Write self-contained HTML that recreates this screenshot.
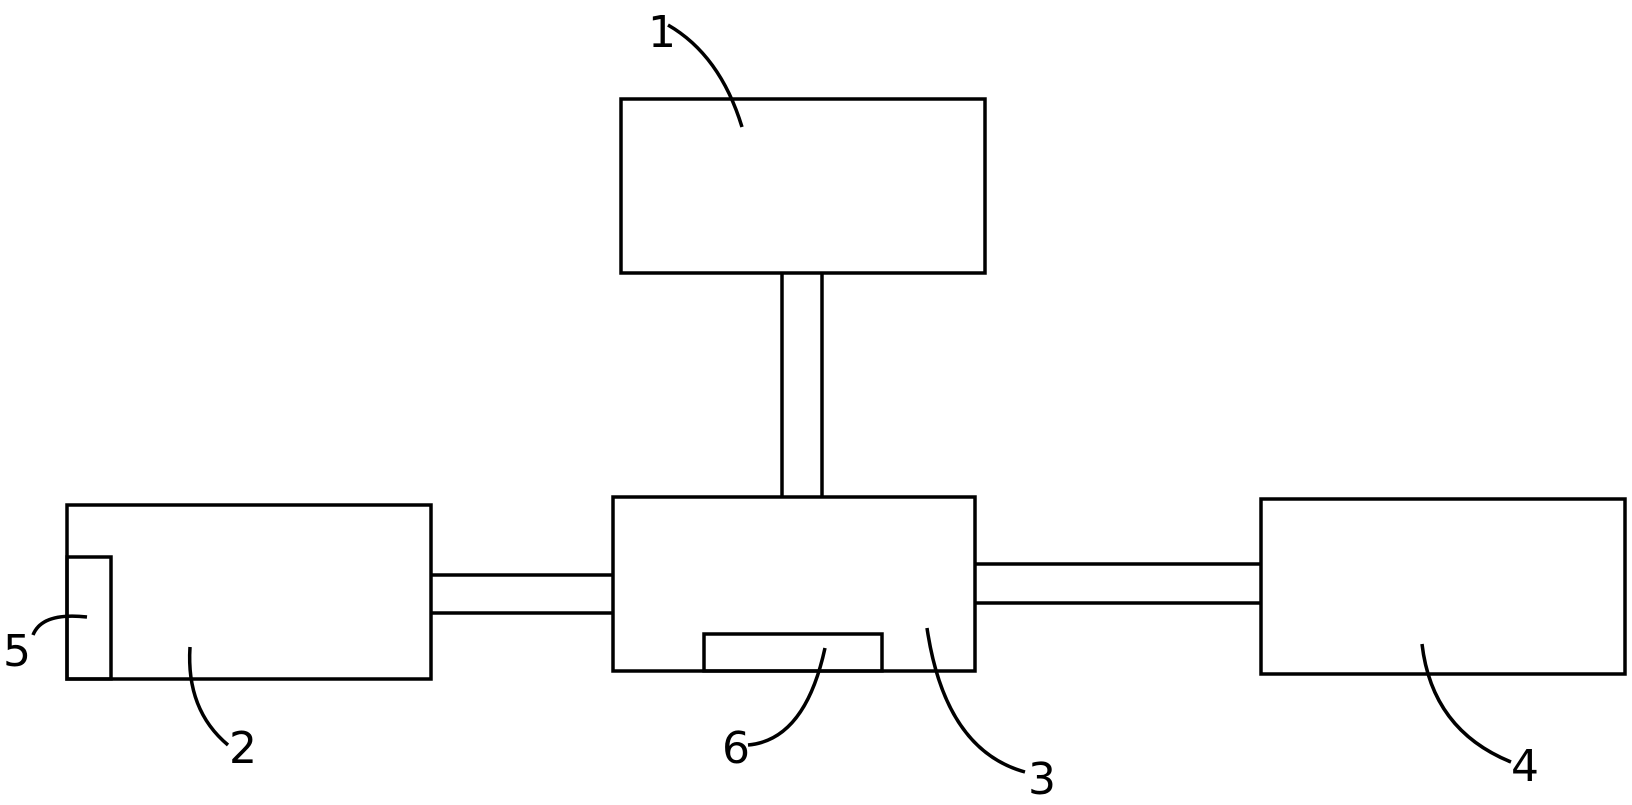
<!DOCTYPE html>
<html><head><style>html,body{margin:0;padding:0;background:#fff}</style></head>
<body>
<svg width="1632" height="800" viewBox="0 0 1632 800" xmlns="http://www.w3.org/2000/svg">
<g fill="none" stroke="#000" stroke-width="3.5">
<rect x="621" y="99" width="364" height="174"/>
<line x1="782" y1="273" x2="782" y2="497"/>
<line x1="822" y1="273" x2="822" y2="497"/>
<rect x="613" y="497" width="362" height="174"/>
<rect x="704" y="634" width="178" height="37"/>
<rect x="67" y="505" width="364" height="174"/>
<rect x="67" y="557" width="44" height="122"/>
<line x1="431" y1="575" x2="613" y2="575"/>
<line x1="431" y1="613" x2="613" y2="613"/>
<line x1="975" y1="564" x2="1261" y2="564"/>
<line x1="975" y1="603" x2="1261" y2="603"/>
<rect x="1261" y="499" width="364" height="175"/>
<path d="M1422 644 Q1432 730 1511 762"/>
<path d="M190 647 Q186 710 228 745"/>
<path d="M87 617 Q42 612 33 635"/>
<path d="M668 25 Q720 55 742 127"/>
<path d="M825 648 Q805 740 748 745"/>
<path d="M927 628 Q945 750 1025 772"/>
</g>
<g font-family="'DejaVu Sans', sans-serif" font-size="44" fill="#000">
<text x="648" y="47">1</text>
<text x="229" y="763">2</text>
<text x="1028" y="794">3</text>
<text x="1511" y="781">4</text>
<text x="3" y="666">5</text>
<text x="722" y="763">6</text>
</g>
</svg>
</body></html>
